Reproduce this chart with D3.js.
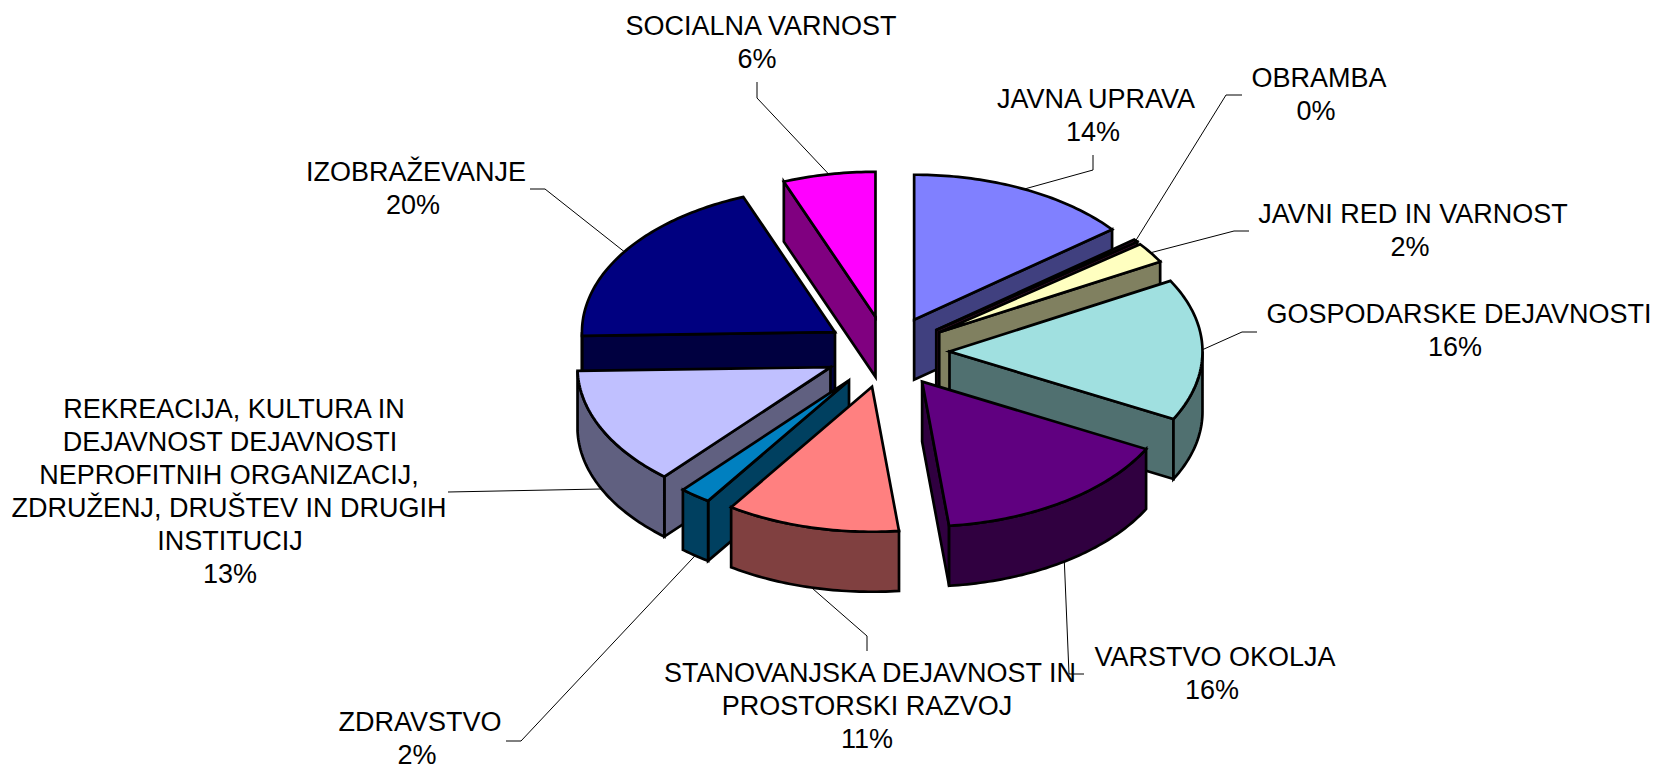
<!DOCTYPE html>
<html>
<head>
<meta charset="utf-8">
<style>
    html, body { margin: 0; padding: 0; background: #fff; }
    svg { display: block; }
    text { font-family: "Liberation Sans", Arial, sans-serif; font-size: 27px; fill: #000; text-anchor: middle; }
</style>
<script src="https://cdn.jsdelivr.net/npm/d3@7"></script>
</head>
<body>
<svg id="chart" width="1654" height="770"></svg>
<script>
    'use strict'

    var categories = [
        'JAVNA UPRAVA',
        'OBRAMBA',
        'JAVNI RED IN VARNOST',
        'GOSPODARSKE DEJAVNOSTI',
        'VARSTVO OKOLJA',
        'STANOVANJSKA DEJAVNOST IN|PROSTORSKI RAZVOJ',
        'ZDRAVSTVO',
        'REKREACIJA, KULTURA IN|DEJAVNOST DEJAVNOSTI|NEPROFITNIH ORGANIZACIJ,|ZDRUŽENJ, DRUŠTEV IN DRUGIH|INSTITUCIJ',
        'IZOBRAŽEVANJE',
        'SOCIALNA VARNOST'
    ]
    var values = [14.3, 0.3, 2.3, 15.8, 15.6, 11.1, 2.0, 13.2, 19.5, 5.9]
    var topColors = ['#8080ff', '#802060', '#ffffc0', '#a0e0e0', '#600080', '#ff8080', '#0080c0', '#c0c0ff', '#000080', '#ff00ff']
    var wallColors = ['#40407f', '#401030', '#808060', '#507070', '#300040', '#804040', '#004060', '#606080', '#000040', '#800080']

    // back to front
    var drawOrder = [8, 9, 0, 1, 2, 3, 7, 6, 5, 4]

    // label placement: x centre of each line, first baseline
    var labelX = [
        [1096, 1093],
        [1319, 1316],
        [1413, 1410],
        [1459, 1455],
        [1215, 1212],
        [870, 867, 867],
        [420, 417],
        [234, 230, 229, 229, 230, 230],
        [416, 413],
        [761, 757]
    ]
    var labelY = [108, 87, 223, 323, 666, 682, 731, 418, 181, 35]
    var lineHeight = 33

    // leader knees, from label side toward the pie
    var leaderKnees = [
        [[1093, 155], [1093, 170]],
        [[1242, 95], [1226, 95]],
        [[1249, 231], [1234, 231]],
        [[1257, 332], [1242, 332]],
        [[1084, 674], [1069, 674]],
        [[867, 651], [867, 636]],
        [[506, 741], [521, 741]],
        [[448, 492]],
        [[530, 189], [545, 189]],
        [[757, 82], [757, 98]]
    ]

    var centerX = 887,
        centerY = 352,
        radiusX = 253,
        radiusY = 145,
        depth = 60,
        explode = 0.247

    var x = d3.scaleLinear().domain([-1, 1]).range([centerX - radiusX, centerX + radiusX])
    var y = d3.scaleLinear().domain([-1, 1]).range([centerY - radiusY, centerY + radiusY])

    var pie = d3.pie().sort(null).value(function (d) { return d })
    var slices = pie(values)

    var svg = d3.select('#chart')
    var line = d3.line()
    var step = Math.PI / 180

    // point on slice: angle t, r 0 = apex, 1 = rim, z = how far down the wall
    function point(s, t, r, z) {
        var mid = (s.startAngle + s.endAngle) / 2
        return [
            x(explode * Math.sin(mid) + r * Math.sin(t)),
            y(-explode * Math.cos(mid) - r * Math.cos(t)) + z
        ]
    }

    function rim(s, a0, a1, z) {
        var pts = d3.range(a0, a1, step).map(function (t) { return point(s, t, 1, z) })
        pts.push(point(s, a1, 1, z))
        return pts
    }

    function topPath(s) {
        return line([point(s, 0, 0, 0)].concat(rim(s, s.startAngle, s.endAngle, 0))) + 'Z'
    }

    function radialWall(s, t) {
        return line([point(s, t, 0, 0), point(s, t, 1, 0), point(s, t, 1, depth), point(s, t, 0, depth)]) + 'Z'
    }

    function outerWall(s) {
        var a0 = Math.max(s.startAngle, Math.PI / 2),
            a1 = Math.min(s.endAngle, Math.PI * 1.5)
        if (a0 >= a1) return null
        return line(rim(s, a0, a1, 0).concat(rim(s, a0, a1, depth).reverse())) + 'Z'
    }

    // leader lines go under the slices
    svg.append('g')
        .selectAll('path')
        .data(slices)
        .enter()
        .append('path')
        .attr('fill', 'none')
        .attr('stroke', '#000')
        .attr('stroke-width', 1)
        .attr('d', function (s, i) {
            var mid = (s.startAngle + s.endAngle) / 2
            var front = Math.cos(mid) < 0 && i !== 3
            return line(leaderKnees[i].concat([point(s, mid, 1, front ? depth : 0)]))
        })

    var pieces = svg.append('g')
        .attr('stroke', '#000')
        .attr('stroke-width', 2.7)
        .selectAll('g')
        .data(drawOrder)
        .enter()
        .append('g')

    pieces.each(function (i) {
        var s = slices[i],
            g = d3.select(this)

        if (Math.sin(s.startAngle) < 0) {
            g.append('path').attr('d', radialWall(s, s.startAngle)).attr('fill', wallColors[i])
        }
        if (Math.sin(s.endAngle) > 0) {
            g.append('path').attr('d', radialWall(s, s.endAngle)).attr('fill', wallColors[i])
        }
        var outer = outerWall(s)
        if (outer) g.append('path').attr('d', outer).attr('fill', wallColors[i])

        g.append('path').attr('d', topPath(s)).attr('fill', topColors[i])
    })

    var labels = svg.append('g')
        .selectAll('text')
        .data(slices)
        .enter()
        .append('text')

    labels.each(function (s, i) {
        var lines = categories[i].split('|').concat([Math.round(s.value) + '%'])
        d3.select(this)
            .selectAll('tspan')
            .data(lines)
            .enter()
            .append('tspan')
            .attr('x', function (d, j) { return labelX[i][j] })
            .attr('y', function (d, j) { return labelY[i] + j * lineHeight })
            .text(function (d) { return d })
    })
</script>
</body>
</html>
